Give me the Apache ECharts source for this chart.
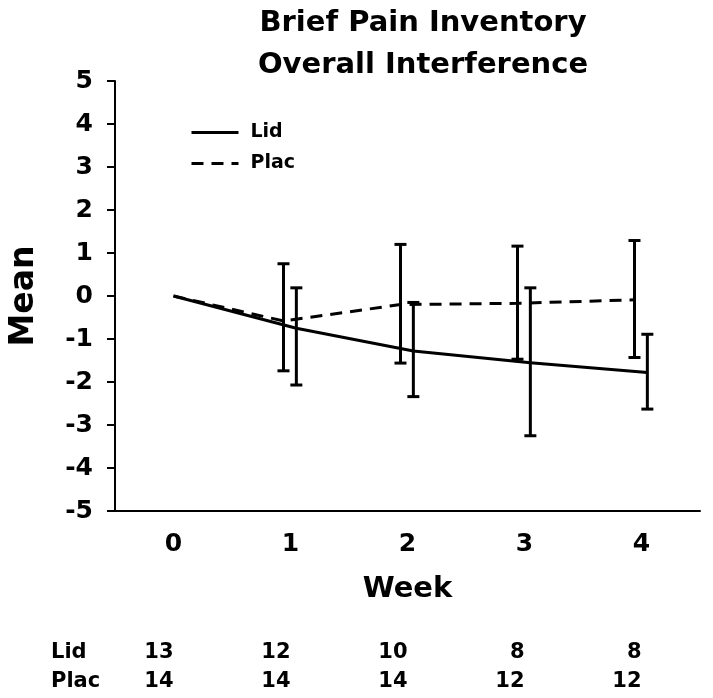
<!DOCTYPE html>
<html>
<head>
<meta charset="utf-8">
<script src="https://cdn.jsdelivr.net/npm/echarts@6/dist/echarts.min.js"></script>
<style>
html,body{margin:0;padding:0;background:#fff;}
#c{width:713px;height:698px;}
</style>
</head>
<body>
<div id="c"></div>
<script>
// ---- data ----
var weeks = ['0', '1', '2', '3', '4'];
var yTicks = [-5, -4, -3, -2, -1, 0, 1, 2, 3, 4, 5];
// plotted x position (weeks) of each group's points (slightly offset around each week)
var lidX  = [0, 1.05, 2.05, 3.05, 4.05];
var placX = [0, 0.94, 1.94, 2.94, 3.94];
var lidMean  = [0, -0.75, -1.28, -1.55, -1.78];
var lidLow   = [null, -2.07, -2.34, -3.25, -2.63];
var lidHigh  = [null, 0.19, -0.15, 0.19, -0.89];
var placMean = [0, -0.58, -0.20, -0.17, -0.09];
var placLow  = [null, -1.74, -1.56, -1.47, -1.43];
var placHigh = [null, 0.75, 1.20, 1.16, 1.29];
var lidN  = [13, 12, 10, 8, 8];
var placN = [14, 14, 14, 12, 12];

var FONT = 'DejaVu Sans';

function pts(xs, ys) { return xs.map(function (x, i) { return [x, ys[i]]; }); }
function bars(xs, lo, hi) {
  var out = [];
  xs.forEach(function (x, i) { if (lo[i] != null) out.push([x, lo[i], hi[i]]); });
  return out;
}
function errRender(params, api) {
  var x = api.value(0);
  var p1 = api.coord([x, api.value(1)]);
  var p2 = api.coord([x, api.value(2)]);
  var hw = 6;
  var st = { stroke: '#000', lineWidth: 3 };
  return {
    type: 'group',
    children: [
      { type: 'line', shape: { x1: p1[0], y1: p1[1], x2: p2[0], y2: p2[1] }, style: st },
      { type: 'line', shape: { x1: p1[0] - hw, y1: p1[1], x2: p1[0] + hw, y2: p1[1] }, style: st },
      { type: 'line', shape: { x1: p2[0] - hw, y1: p2[1], x2: p2[0] + hw, y2: p2[1] }, style: st }
    ]
  };
}

var chart = echarts.init(document.getElementById('c'), null, { renderer: 'canvas' });
var nAxisBase = {
  type: 'category', gridIndex: 0, position: 'bottom',
  axisLine: { show: false, onZero: false }, axisTick: { show: false }, splitLine: { show: false },
  axisLabel: { margin: 0, verticalAlign: 'middle', align: 'right', color: '#000',
               fontFamily: FONT, fontWeight: 'bold', fontSize: 21 },
  nameLocation: 'start', nameGap: 64,
  nameTextStyle: { align: 'left', verticalAlign: 'middle', color: '#000',
                   fontFamily: FONT, fontWeight: 'bold', fontSize: 21 }
};

chart.setOption({
  animation: false,
  backgroundColor: '#fff',
  title: {
    text: 'Brief Pain Inventory\nOverall Interference',
    left: 418, top: -3, textAlign: 'center',
    textStyle: { fontFamily: FONT, fontWeight: 'bold', fontSize: 29, lineHeight: 42, color: '#000' }
  },
  legend: {
    orient: 'vertical', left: 190, top: 123, padding: 0,
    itemWidth: 47, itemHeight: 20, itemGap: 12,
    data: ['Lid', 'Plac'],
    itemStyle: { color: 'rgba(0,0,0,0)', borderWidth: 0, opacity: 0 },
    lineStyle: { width: 3, color: '#000' },
    textStyle: { fontFamily: FONT, fontWeight: 'bold', fontSize: 19, color: '#000', padding: [0, 0, 0, 7] }
  },
  grid: { left: 113, right: 13, top: 81, bottom: 187, containLabel: false },
  xAxis: [
    {
      type: 'category', data: weeks, boundaryGap: true,
      axisLine: { onZero: false, lineStyle: { color: '#000', width: 2 } },
      axisTick: { show: false },
      axisLabel: { margin: 21, color: '#000', fontFamily: FONT, fontWeight: 'bold', fontSize: 25 },
      name: 'Week', nameLocation: 'middle', nameGap: 64,
      nameTextStyle: { color: '#000', fontFamily: FONT, fontWeight: 'bold', fontSize: 29 }
    },
    { type: 'value', min: -0.5, max: 4.5, show: false, axisLine: { onZero: false } },
    Object.assign({}, nAxisBase, { data: lidN.map(String), offset: 142, name: 'Lid' }),
    Object.assign({}, nAxisBase, { data: placN.map(String), offset: 171, name: 'Plac' })
  ],
  yAxis: [{
    type: 'value', min: yTicks[0], max: yTicks[yTicks.length - 1], interval: 1,
    axisLine: { show: true, onZero: false, lineStyle: { color: '#000', width: 2 } },
    axisTick: { show: true, inside: false, length: 8, lineStyle: { color: '#000', width: 2 } },
    splitLine: { show: false },
    axisLabel: { margin: 22, color: '#000', fontFamily: FONT, fontWeight: 'bold', fontSize: 25 },
    name: 'Mean', nameLocation: 'middle', nameGap: 74, nameRotate: 90,
    nameTextStyle: { color: '#000', fontFamily: FONT, fontWeight: 'bold', fontSize: 33 }
  }],
  series: [
    {
      name: 'Lid', type: 'line', xAxisIndex: 1, yAxisIndex: 0,
      data: pts(lidX, lidMean), symbol: 'none', clip: false,
      lineStyle: { color: '#000', width: 3, type: 'solid' },
      itemStyle: { color: '#000' }
    },
    {
      name: 'Plac', type: 'line', xAxisIndex: 1, yAxisIndex: 0,
      data: pts(placX, placMean), symbol: 'none', clip: false,
      lineStyle: { color: '#000', width: 3, type: [12, 8] },
      itemStyle: { color: '#000' }
    },
    {
      type: 'custom', xAxisIndex: 1, yAxisIndex: 0, renderItem: errRender, clip: false,
      data: bars(placX, placLow, placHigh), silent: true
    },
    {
      type: 'custom', xAxisIndex: 1, yAxisIndex: 0, renderItem: errRender, clip: false,
      data: bars(lidX, lidLow, lidHigh), silent: true
    }
  ]
});
</script>
</body>
</html>
